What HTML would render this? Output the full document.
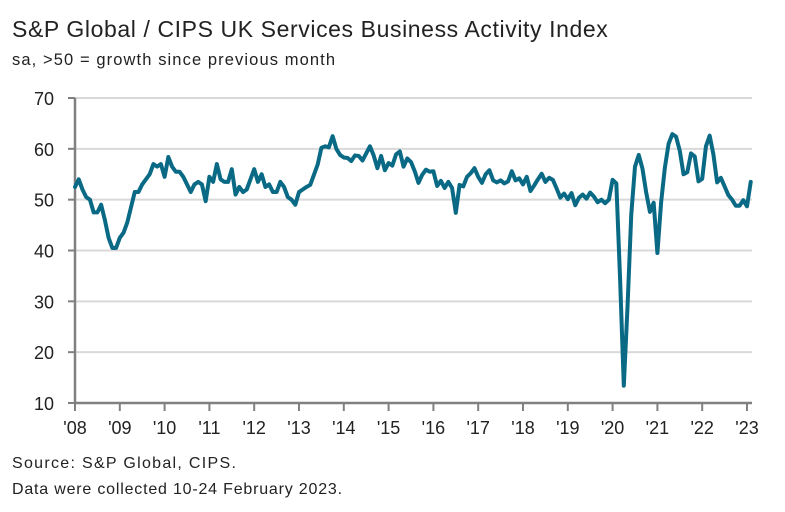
<!DOCTYPE html>
<html><head><meta charset="utf-8"><style>
body{margin:0;background:#fff;width:785px;height:512px;overflow:hidden;font-family:"Liberation Sans",sans-serif;color:#222}
.t{position:absolute;left:12px;white-space:nowrap}
</style></head><body>
<div class="t" style="top:16px;font-size:23px;letter-spacing:0.6px">S&amp;P Global / CIPS UK Services Business Activity Index</div>
<div class="t" style="top:51px;font-size:16.5px;letter-spacing:1.1px">sa, &gt;50 = growth since previous month</div>
<div class="t" style="top:455px;font-size:16px;letter-spacing:1.3px">Source: S&amp;P Global, CIPS.</div>
<div class="t" style="top:481px;font-size:16px;letter-spacing:0.8px">Data were collected 10-24 February 2023.</div>
<svg id="c" width="785" height="512" style="position:absolute;left:0;top:0"></svg>
<script>
const yTicks=[10,20,30,40,50,60,70];
const xLabels=["'08","'09","'10","'11","'12","'13","'14","'15","'16","'17","'18","'19","'20","'21","'22","'23"];
const values=[
52.5,54,52,50.5,50,47.5,47.5,49,46,42.5,40.5,40.5,
42.5,43.5,45.5,48.5,51.5,51.5,53,54,55,57,56.5,57,
54.5,58.4,56.5,55.5,55.5,54.5,53,51.5,53,53.5,53,49.7,
54.5,53.5,57,54,53.5,53.5,56,51,52.5,51.5,52,54,
56,53.5,55,52.5,53,51.5,51.5,53.5,52.5,50.5,50,49,
51.5,52,52.5,52.9,54.9,56.9,60.2,60.5,60.3,62.5,60,58.8,
58.3,58.2,57.6,58.7,58.6,57.7,59.1,60.5,58.7,56.2,58.6,55.8,
57.2,56.7,58.9,59.5,56.5,58.1,57.4,55.6,53.3,54.9,55.9,55.5,
55.6,52.7,53.7,52.3,53.5,52.3,47.4,52.9,52.6,54.5,55.2,56.2,
54.5,53.3,55,55.8,53.8,53.4,53.8,53.2,53.6,55.6,53.8,54.2,
53,54.5,51.7,52.8,54,55.1,53.5,54.3,53.9,52.2,50.4,51.2,
50.1,51.3,48.9,50.4,51,50.2,51.4,50.6,49.5,50,49.3,50,
53.9,53.2,34.5,13.4,29,47.1,56.5,58.8,56.1,51.4,47.6,49.4,
39.5,49.5,56.3,61,62.9,62.4,59.6,55,55.4,59.1,58.5,53.6,
54.1,60.5,62.6,58.9,53.4,54.3,52.6,50.9,50,48.8,48.8,49.9,
48.7,53.5];
const NS="http://www.w3.org/2000/svg",svg=document.getElementById('c');
const L=75,R=752,T=98,B=403,yMin=10,yMax=70,px=44.8;
const y=v=>B-(v-yMin)/(yMax-yMin)*(B-T);
const x=i=>L+i*px/12;
function mk(t,a){const e=document.createElementNS(NS,t);for(const k in a)e.setAttribute(k,a[k]);svg.appendChild(e);return e;}
yTicks.forEach(v=>{
 if(v>yMin){const g=mk('line',{x1:L,x2:R,y1:y(v),y2:y(v),stroke:'#d9d9d9','stroke-width':2});
 
 }
 const tk=mk('line',{x1:L-7,x2:L,y1:y(v),y2:y(v),stroke:'#808080','stroke-width':2});
 
 
 const t=mk('text',{x:54,y:y(v)+7,'text-anchor':'end','font-size':18,fill:'#222','font-family':'Liberation Sans, sans-serif'});
 t.textContent=v;
 
 
});
const ya=mk('line',{x1:L,x2:L,y1:T,y2:B,stroke:'#808080','stroke-width':2.5});


const xa=mk('line',{x1:L,x2:R,y1:B,y2:B,stroke:'#808080','stroke-width':2.5});


xLabels.forEach((s,i)=>{
 const tk=mk('line',{x1:x(i*12),x2:x(i*12),y1:B,y2:B+8,stroke:'#808080','stroke-width':2});
 
 
 const t=mk('text',{x:x(i*12),y:434,'text-anchor':'middle','font-size':18,fill:'#222','font-family':'Liberation Sans, sans-serif'});
 t.textContent=s;
 
 
});
const p=mk('polyline',{points:values.map((v,i)=>x(i)+','+y(v)).join(' '),fill:'none',stroke:'#0a6a85','stroke-width':4,'stroke-linejoin':'round','stroke-linecap':'round'});


</script>
</body></html>
